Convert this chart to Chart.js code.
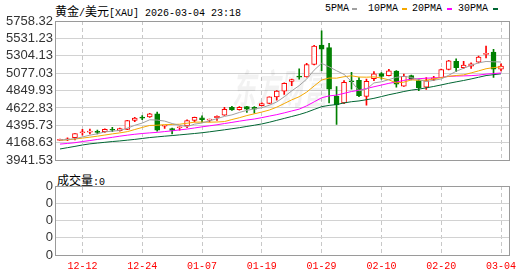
<!DOCTYPE html>
<html>
<head>
<meta charset="utf-8">
<script src="https://cdn.jsdelivr.net/npm/chart.js@4.4.1/dist/chart.umd.min.js"></script>
<style>
body { margin:0; background:#fff; width:530px; height:276px; position:relative; overflow:hidden; }
canvas { position:absolute; left:0; }
.t { position:absolute; font:10px "Liberation Mono", monospace; white-space:nowrap; color:#000; line-height:12px; }
.c { font:12px "Noto Sans CJK SC"; }
.k { position:absolute; width:5px; height:2px; }
</style>
</head>
<body>
<div class="t" style="left:55px;top:2px"><span class="c">黄金</span>/<span class="c">美元</span>[XAU] 2026-03-04 23:18</div>
<div class="t" style="left:325px;top:3px">5PMA</div><div class="k" style="left:352px;top:8px;background:#a0a0a0"></div>
<div class="t" style="left:368px;top:3px">10PMA</div><div class="k" style="left:402px;top:8px;background:#f5a800"></div>
<div class="t" style="left:412px;top:3px">20PMA</div><div class="k" style="left:447px;top:8px;background:#ff00ff"></div>
<div class="t" style="left:458px;top:3px">30PMA</div><div class="k" style="left:493px;top:8px;background:#006633"></div>
<div class="t" style="left:57px;top:171px"><span class="c">成交量</span>:0</div>
<canvas id="kline" width="530" height="170" style="top:0"></canvas>
<canvas id="vol" width="530" height="106" style="top:170px"></canvas>
<script>
// trading days shown (mm-dd)
var dates = ['12-09','12-10','12-11','12-12','12-15','12-16','12-17','12-18','12-19','12-22',
             '12-23','12-24','12-26','12-29','12-30','12-31','01-02','01-05','01-06','01-07',
             '01-08','01-09','01-12','01-13','01-14','01-15','01-16','01-19','01-20','01-21',
             '01-22','01-23','01-26','01-27','01-28','01-29','01-30','02-02','02-03','02-04',
             '02-05','02-06','02-09','02-10','02-11','02-12','02-13','02-16','02-17','02-18',
             '02-19','02-20','02-23','02-24','02-25','02-26','02-27','03-02','03-03','03-04'];

var opens  = [4200,4205,4237,4300,4308,4312,4314,4340,4327,4344,
              4460,4500,4505,4548,4385,4355,4365,4390,4462,4495,
              4465,4495,4530,4632,4600,4640,4632,4653,4682,4768,
              4843,4970,5035,5030,5190,5445,5410,4780,4690,4975,
              4985,4775,5005,5072,5045,5105,4908,5045,4980,4895,
              4995,5020,5125,5232,5150,5170,5220,5322,5352,5128];
var highs  = [4218,4235,4290,4344,4347,4335,4350,4372,4362,4462,
              4500,4525,4552,4570,4398,4362,4378,4470,4505,4522,
              4478,4522,4632,4645,4640,4645,4640,4690,4770,4850,
              4950,5000,5135,5205,5440,5630,5466,4903,4980,5090,
              5020,5000,5098,5085,5128,5112,5065,5052,5000,5020,
              5035,5130,5245,5265,5232,5212,5300,5432,5390,5200];
var lows   = [4195,4195,4205,4268,4285,4285,4305,4315,4320,4340,
              4445,4470,4500,4320,4355,4285,4332,4365,4440,4435,
              4440,4462,4525,4590,4595,4565,4555,4650,4678,4726,
              4800,4915,5000,5025,5185,5110,4690,4408,4680,4870,
              4770,4660,4980,5000,5040,4895,4905,4990,4850,4865,
              4980,5018,5120,5098,5140,5140,5210,5275,5021,5108];
var closes = [4212,4220,4288,4305,4314,4305,4345,4332,4355,4460,
              4492,4490,4548,4335,4395,4330,4375,4458,4500,4470,
              4475,4515,4607,4598,4632,4608,4608,4682,4767,4843,
              4945,4995,5025,5190,5432,5390,4870,4662,4958,4965,
              4785,4970,5070,5035,5107,4935,5035,5000,4888,4980,
              5015,5125,5240,5148,5182,5200,5288,5330,5128,5170];

var ma5  = [4205,4212,4222,4245,4268,4286,4311,4320,4330,4359,
            4397,4426,4469,4465,4452,4420,4397,4379,4412,4427,
            4456,4484,4513,4533,4565,4592,4611,4626,4659,4702,
            4769,4846,4915,5000,5117,5206,5160,5109,5062,4969,
            4848,4868,4950,4965,4993,5023,5036,5022,4993,4968,
            4984,5002,5050,5102,5142,5179,5212,5230,5226,5223];
var ma10 = [4200,4208,4218,4230,4242,4255,4270,4285,4298,4314,
            4342,4369,4395,4398,4406,4408,4411,4424,4438,4439,
            4438,4440,4446,4472,4496,4524,4547,4570,4596,4634,
            4681,4729,4770,4830,4910,4988,5014,5012,5031,5043,
            5027,5025,5029,5014,4990,4950,4960,4990,4985,4985,
            5004,5019,5036,5047,5055,5081,5107,5135,5150,5160];
var ma20 = [4152,4160,4170,4185,4198,4212,4226,4240,4255,4268,
            4280,4290,4298,4305,4315,4325,4337,4348,4362,4377,
            4390,4404,4420,4435,4451,4466,4479,4497,4517,4536,
            4559,4584,4608,4651,4703,4756,4781,4791,4814,4838,
            4854,4877,4900,4922,4945,4962,4983,4999,5005,5012,
            5015,5022,5035,5040,5042,5045,5052,5065,5072,5080];
var ma30 = [4088,4105,4122,4140,4155,4165,4175,4185,4193,4203,
            4213,4225,4237,4246,4255,4263,4272,4281,4290,4300,
            4312,4325,4338,4352,4366,4382,4398,4415,4437,4462,
            4487,4512,4537,4567,4604,4640,4657,4668,4689,4705,
            4715,4731,4749,4772,4796,4816,4838,4856,4869,4886,
            4904,4924,4945,4964,4982,5002,5024,5046,5058,5069];

// which candles carry a date label
var tickIdx = [3, 11, 19, 27, 35, 43, 51, 59];
var yTicks = [3941.53, 4168.63, 4395.73, 4622.83, 4849.93, 5077.03, 5304.13, 5531.23, 5758.32];
var volTicks = [0, 1, 2, 3, 4];
var volTickLabels = ['0', '0', '0', '0', '0'];

var red = '#ff0000';
var green = '#008000';

var wickData = [], bodyData = [], lineColor = [], fillColor = [];
for (var i = 0; i < dates.length; i++) {
    var up = closes[i] >= opens[i];
    wickData.push({x: i, y: [lows[i], highs[i]]});
    bodyData.push({x: i, y: [opens[i], closes[i]]});
    lineColor.push(up ? red : green);
    fillColor.push(up ? '#ffffff' : green);
}

function pts(arr) {
    return arr.map(function(v, i) { return {x: i, y: v}; });
}

// grey frame round the plot
var boxPlugin = {
    id: 'box',
    afterDraw: function(chart) {
        var a = chart.chartArea, ctx = chart.ctx;
        ctx.save();
        ctx.strokeStyle = '#9a9a9a';
        ctx.lineWidth = 1;
        ctx.strokeRect(Math.round(a.left) + 0.5, Math.round(a.top) + 0.5,
                       Math.round(a.right - a.left), Math.round(a.bottom - a.top));
        ctx.restore();
    }
};

var markPlugin = {
    id: 'mark',
    beforeDatasetsDraw: function(chart) {
        var ctx = chart.ctx;
        ctx.save();
        ctx.fillStyle = 'rgba(0,0,0,0.05)';
        ctx.font = 'italic bold 24px "Noto Sans CJK SC"';
        ctx.translate(232, 104);
        ctx.scale(1, 1.7);
        ctx.fillText('东方财富', 0, 0);
        ctx.restore();
    }
};

var xMin = -0.67, xMax = 60.07;

function xScale(showLabels) {
    return {
        type: 'linear', min: xMin, max: xMax, offset: false, bounds: 'data',
        afterBuildTicks: function(s) {
            s.ticks = tickIdx.map(function(v) { return {value: v}; });
        },
        afterFit: showLabels ? function(s) { s.height = 21; } : function(s) { s.height = 0; },
        ticks: {
            display: showLabels, autoSkip: false, maxRotation: 0, padding: 5,
            color: red, font: {family: 'Liberation Mono', size: 10},
            callback: function(v, idx) { return dates[tickIdx[idx]]; }
        },
        grid: {color: '#c8c8c8', drawTicks: false, offset: false},
        border: {display: false, dash: [4, 3]}
    };
}

function yScale(ticks, labelOf) {
    return {
        min: ticks[0], max: ticks[ticks.length - 1],
        afterBuildTicks: function(s) {
            s.ticks = ticks.map(function(v) { return {value: v}; });
        },
        afterFit: function(s) { s.width = 55; },
        ticks: {
            autoSkip: false, color: '#333', padding: 2,
            font: {family: 'Liberation Sans', size: 13},
            callback: labelOf
        },
        grid: {color: '#d2d2d2', drawTicks: false},
        border: {display: false}
    };
}

new Chart(document.getElementById('kline'), {
    type: 'bar',
    data: {
        datasets: [
            {type: 'line', label: '5PMA', data: pts(ma5), borderColor: '#a0a0a0', borderWidth: 1, pointRadius: 0, order: 0},
            {type: 'line', label: '10PMA', data: pts(ma10), borderColor: '#f5a800', borderWidth: 1, pointRadius: 0, order: 0},
            {type: 'line', label: '20PMA', data: pts(ma20), borderColor: '#ff00ff', borderWidth: 1, pointRadius: 0, order: 0},
            {type: 'line', label: '30PMA', data: pts(ma30), borderColor: '#006633', borderWidth: 1, pointRadius: 0, order: 0},
            {label: 'body', data: bodyData, backgroundColor: fillColor, borderColor: lineColor, borderWidth: 1,
             borderSkipped: false, barThickness: 5, minBarLength: 1, grouped: false, order: 1},
            {label: 'wick', data: wickData, backgroundColor: lineColor, borderWidth: 0,
             barThickness: 1, grouped: false, order: 2}
        ]
    },
    options: {
        responsive: false,
        animation: false,
        layout: {padding: {left: 0, right: 21, top: 21, bottom: 5}},
        plugins: {legend: {display: false}, tooltip: {enabled: false}},
        scales: {
            x: xScale(false),
            y: yScale(yTicks, function(v) { return Number(v).toFixed(2); })
        }
    },
    plugins: [boxPlugin, markPlugin]
});

new Chart(document.getElementById('vol'), {
    type: 'bar',
    data: {datasets: []},
    options: {
        responsive: false,
        animation: false,
        layout: {padding: {left: 0, right: 21, top: 16, bottom: 0}},
        plugins: {legend: {display: false}, tooltip: {enabled: false}},
        scales: {
            x: xScale(true),
            y: yScale(volTicks, function(v, idx) { return volTickLabels[idx]; })
        }
    },
    plugins: [boxPlugin]
});
</script>
</body>
</html>
